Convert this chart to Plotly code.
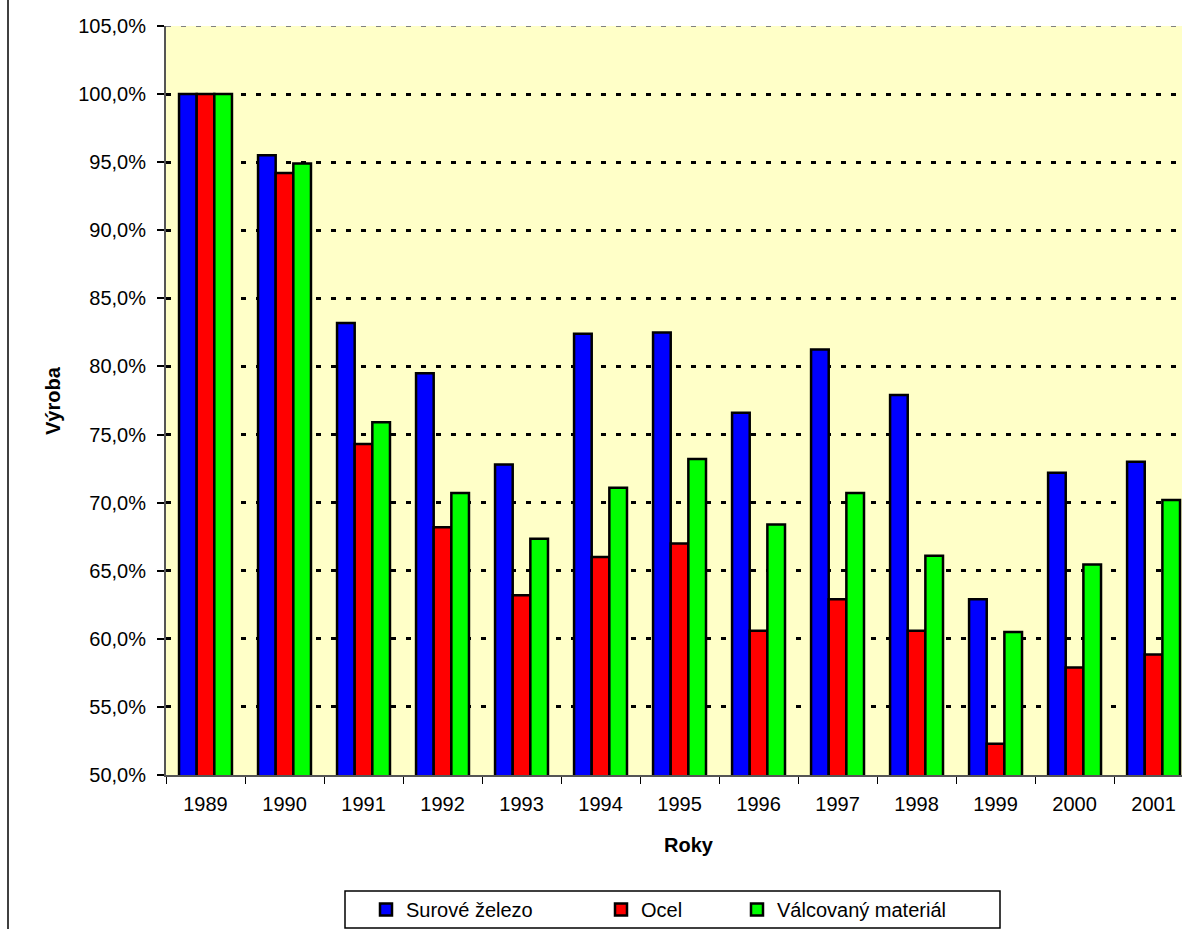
import plotly.graph_objects as go

years = ["1989", "1990", "1991", "1992", "1993", "1994", "1995",
         "1996", "1997", "1998", "1999", "2000", "2001"]
surove_zelezo = [100.0, 95.5, 83.2, 79.5, 72.8, 82.4, 82.5, 76.6, 81.25, 77.9, 62.9, 72.2, 73.0]
ocel = [100.0, 94.2, 74.3, 68.2, 63.2, 66.0, 67.0, 60.6, 62.9, 60.6, 52.3, 57.9, 58.85]
valcovany = [100.0, 94.9, 75.9, 70.7, 67.35, 71.1, 73.2, 68.4, 70.7, 66.1, 60.5, 65.45, 70.2]

series_names = ["Surové železo", "Ocel", "Válcovaný materiál"]
series_colors = ["#0000FF", "#FF0000", "#00FF00"]
y_ticks = [50, 55, 60, 65, 70, 75, 80, 85, 90, 95, 100, 105]
y_tick_labels = [f"{v:.1f}%".replace(".", ",") for v in y_ticks]

W, H = 1182, 929
L, T, B = 166, 26, 154
PW = W - L
PH = H - T - B
FONT = "Liberation Sans, Arial, sans-serif"
FS = 20


def px(xp):
    return (xp - L) / PW


def py(yp):
    return (H - B - yp) / PH


fig = go.Figure()
legend_ids = ["legend", "legend2", "legend3"]
for name, vals, col, lg in zip(series_names, [surove_zelezo, ocel, valcovany],
                               series_colors, legend_ids):
    fig.add_trace(go.Bar(
        x=years, y=vals, name=name, legend=lg,
        marker=dict(color=col, line=dict(color="#000000", width=2.5)),
    ))

legend_common = dict(
    orientation="h", bgcolor="rgba(0,0,0,0)", borderwidth=0,
    font=dict(family=FONT, size=FS, color="#000000"),
    yanchor="middle", xanchor="left", y=py(909.5),
)

fig.update_layout(
    width=W, height=H,
    margin=dict(l=L, r=0, t=T, b=B, pad=0),
    paper_bgcolor="#FFFFFF",
    plot_bgcolor="#FFFFC8",
    barmode="group", bargap=0.33, bargroupgap=0,
    font=dict(family=FONT, size=FS, color="#000000"),
    showlegend=True,
    legend=dict(legend_common, x=px(366)),
    legend2=dict(legend_common, x=px(601)),
    legend3=dict(legend_common, x=px(737)),
    xaxis=dict(
        type="category", range=[-0.5, 12.36],
        tickson="boundaries", ticks="outside", ticklen=7, tickwidth=1,
        tickcolor="#000000", ticklabelstandoff=10,
        showline=True, linecolor="#555555", linewidth=2,
        showgrid=False,
        tickfont=dict(family=FONT, size=FS, color="#000000"),
        fixedrange=True,
    ),
    yaxis=dict(
        range=[50, 105], tickvals=y_ticks, ticktext=y_tick_labels,
        ticks="outside", ticklen=7, tickwidth=2, tickcolor="#000000",
        ticklabelstandoff=7,
        showline=True, linecolor="#555555", linewidth=2,
        showgrid=True, gridcolor="#000000", gridwidth=3, griddash="5px,10px",
        zeroline=False,
        tickfont=dict(family=FONT, size=FS, color="#000000"),
        fixedrange=True,
    ),
)

# top border of plot area (gray dashed)
fig.add_shape(type="line", xref="paper", yref="y",
              x0=0, x1=1, y0=105, y1=105, layer="above",
              line=dict(color="#808080", width=2, dash="5px,10px"))

# axis titles
fig.add_annotation(text="<b>Roky</b>", xref="paper", yref="paper",
                   x=px(689), y=py(845), showarrow=False,
                   font=dict(family=FONT, size=20, color="#000000"),
                   xanchor="center", yanchor="middle")
fig.add_annotation(text="<b>Výroba</b>", xref="paper", yref="paper",
                   x=px(53), y=py(401), showarrow=False, textangle=-90,
                   font=dict(family=FONT, size=20, color="#000000"),
                   xanchor="center", yanchor="middle")

# legend frame
fig.add_shape(type="rect", xref="paper", yref="paper",
              x0=px(345), x1=px(1000), y0=py(928), y1=py(891),
              line=dict(color="#000000", width=1.5), fillcolor="rgba(0,0,0,0)")
# chart area left border
fig.add_shape(type="line", xref="paper", yref="paper",
              x0=px(8), x1=px(8), y0=py(929), y1=py(0),
              line=dict(color="#000000", width=1.5))

fig.write_html("out.html",
               config={"displayModeBar": False},
               post_script="document.body.style.margin='0';document.body.style.overflow='hidden';")
